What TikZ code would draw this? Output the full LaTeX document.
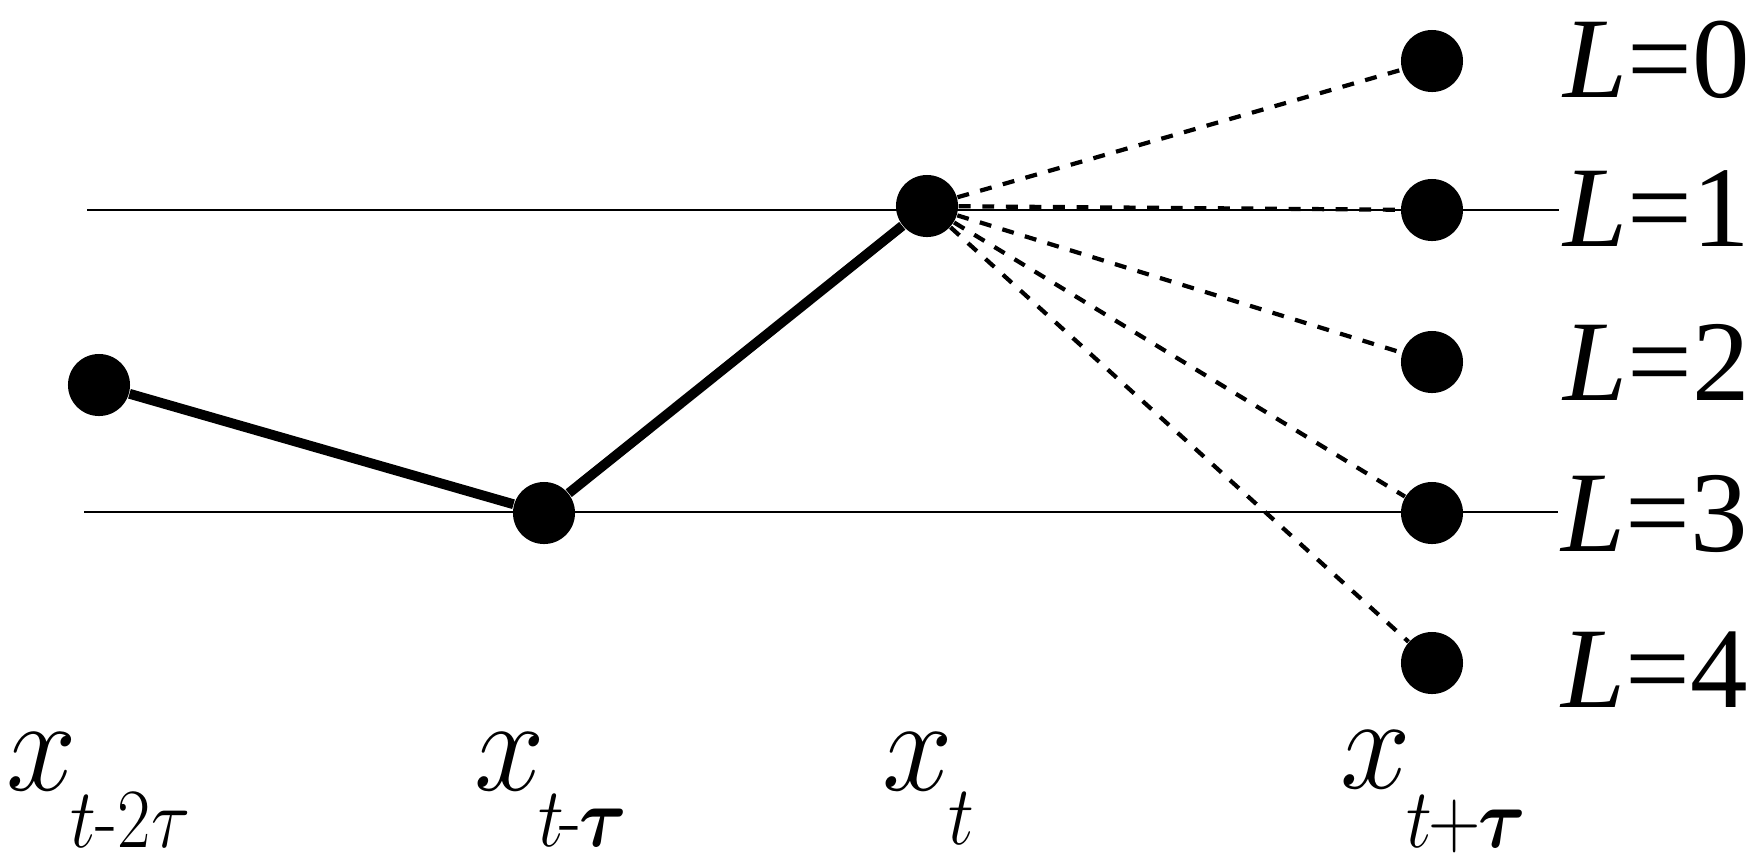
\RequirePackage{fix-cm}
\documentclass[tikz,border=0pt]{standalone}
\usepackage{amsmath}
\usepackage{graphicx}
\usepackage{fontspec}
\newfontfamily\lfont{Liberation Serif}
\begin{document}
\begin{tikzpicture}[x=0.01cm,y=-0.01cm,
  dot/.style={circle,fill=black,inner sep=0pt,minimum size=0.62cm},
  thinline/.style={line width=0.4pt,black},
  thickline/.style={line width=2.8pt,black},
  dashline/.style={line width=1.2pt,black,dash pattern=on 3.4pt off 3.3pt},
  xlab/.style={anchor=base west,inner sep=0pt,font=\fontsize{37.9}{40}\selectfont},
  llab/.style={anchor=base west,inner sep=0pt,font=\lfont\fontsize{32.7}{34}\selectfont}]
\useasboundingbox (0,0) rectangle (1759,866);
% horizontal reference lines
\coordinate (h1l) at (87,210);
\coordinate (h1r) at (1559,210);
\coordinate (h2l) at (84,512);
\coordinate (h2r) at (1558,512);
\draw[thinline] (h1l) -- (h1r);
\draw[thinline] (h2l) -- (h2r);
% dots
\node[dot] (a) at (99,385) {};
\node[dot] (b) at (544,513) {};
\node[dot] (c) at (927,206) {};
\node[dot] (r0) at (1432,61) {};
\node[dot] (r1) at (1432,210) {};
\node[dot] (r2) at (1432,362) {};
\node[dot] (r3) at (1432,513) {};
\node[dot] (r4) at (1432,663) {};
% connectors
\draw[thickline] (a) -- (b) -- (c);
\foreach \r in {r0,r1,r2,r3,r4} \draw[dashline] (c) -- (\r);
% labels
\node[llab] (l0) at (1563,97) {\textit{L}=0};
\node[llab] (l1) at (1563,246) {\textit{L}=1};
\node[llab] (l2) at (1563,400) {\textit{L}=2};
\node[llab] (l3) at (1561,551) {\textit{L}=3};
\node[llab] (l4) at (1561,707) {\textit{L}=4};
\node[xlab] (xa) at (6,790) {\scalebox{0.95}[1]{$x$}\kern-0.07cm\raisebox{-0.57cm}{\scalebox{0.86}[1]{\fontsize{24}{26}\selectfont$t$-$2\tau$}}};
\node[xlab] (xb) at (474,790) {\scalebox{0.95}[1]{$x$}\kern-0.07cm\raisebox{-0.56cm}{\scalebox{0.86}[1]{\fontsize{24}{26}\selectfont$t$\kern-1.5pt-\kern-0.5pt$\boldsymbol{\tau}$}}};
\node[xlab] (xc) at (882,790) {\scalebox{0.95}[1]{$x$}\kern-0.05cm\raisebox{-0.54cm}{\scalebox{0.86}[1]{\fontsize{24}{26}\selectfont$t$}}};
\node[xlab] (xd) at (1340,788) {\scalebox{0.95}[1]{$x$}\kern-0.05cm\raisebox{-0.59cm}{\scalebox{0.86}[1]{\fontsize{24}{26}\selectfont$t\kern-1pt{+}\kern-1pt\boldsymbol{\tau}$}}};
\end{tikzpicture}
\end{document}
